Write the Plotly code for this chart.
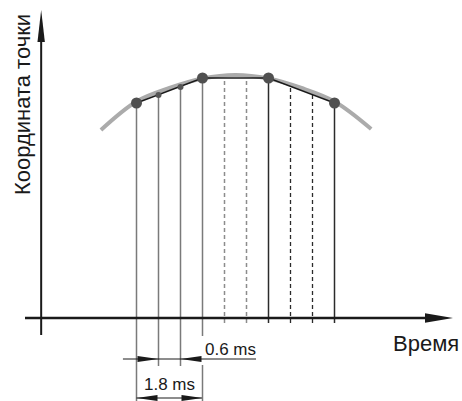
import plotly.graph_objects as go

# ── Data (time in ms, coordinate in arbitrary units) ─────────────────────────
SAMPLE_T = [0.0, 1.8, 3.6, 5.4]          # real samples (big dots)
SAMPLE_Y = [21.5, 24.0, 24.0, 21.5]

INTERP_T = [0.6, 1.2]                    # interpolated samples (small dots)
INTERP_Y = [22.3, 23.1]

CURVE_T = [-0.97, 0.0, 0.9, 1.8, 2.7, 3.6, 4.5, 5.4, 6.4]   # true trajectory
CURVE_Y = [18.8, 21.65, 23.0, 23.95, 24.3, 23.95, 23.0, 21.65, 18.9]

STEM_T = [0.0, 0.6, 1.2, 1.8, 2.4, 3.0, 3.6, 4.2, 4.8, 5.4]
STEM_TOP = [21.5, 22.3, 23.1, 24.0, 24.0, 24.0, 24.0, 23.2, 22.3, 21.5]
STEM_BOTTOM = [-8.3, -4.8, -4.8, -1.8, -0.5, -0.5, -0.5, -0.5, -0.5, -0.5]
STEM_KIND = ["grey", "grey", "grey", "grey", "grey_dash", "grey_dash",
             "dark", "dark_dash", "dark_dash", "dark"]

STEP_LABEL = "0.6 ms"
SPAN_LABEL = "1.8 ms"
X_TITLE = "Время"
Y_TITLE = "Координата точки"

# ── Geometry: data units -> pixels ───────────────────────────────────────────
W, H = 462, 401
PX_MS = 22 / 0.6      # px per ms
PX_U = 10.0           # px per coordinate unit
X0_PX, Y0_PX = 136.5, 318.0
X_RANGE = [-X0_PX / PX_MS, (W - X0_PX) / PX_MS]
Y_RANGE = [-(H - Y0_PX) / PX_U, Y0_PX / PX_U]

AXIS_T = -2.6         # where the vertical axis crosses time
INK = "#1a1a1a"
FONT = "Liberation Sans, Arial, sans-serif"

STYLE = {
    "grey": dict(color="#7a7a7a", width=1.5, dash="solid"),
    "grey_dash": dict(color="#8c8c8c", width=1.5, dash="4px,3px"),
    "dark": dict(color="#2b2b2b", width=1.5, dash="solid"),
    "dark_dash": dict(color="#2b2b2b", width=1.3, dash="4px,3px"),
}


def head(tip_t, tip_y, dx, dy, length=22, half=3.2):
    """Filled arrowhead path; dx, dy = unit direction in screen space (up = +)."""
    bx, by = -dx * length, -dy * length
    px, py = -dy * half, dx * half
    pts = [(0, 0), (bx + px, by + py), (bx - px, by - py)]
    pts = [(tip_t + a / PX_MS, tip_y + b / PX_U) for a, b in pts]
    return dict(type="path", xref="x", yref="y", line_width=0, fillcolor=INK,
                path="M{} {} L{} {} L{} {} Z".format(*[v for p in pts for v in p]))


fig = go.Figure()

# true trajectory
fig.add_trace(go.Scatter(x=CURVE_T, y=CURVE_Y, mode="lines", line_shape="spline",
                         line=dict(color="#ababab", width=4)))

# stems
for kind in STYLE:
    xs, ys = [], []
    for t, top, bot, k in zip(STEM_T, STEM_TOP, STEM_BOTTOM, STEM_KIND):
        if k == kind:
            xs += [t, t, None]
            ys += [bot, top, None]
    fig.add_trace(go.Scatter(x=xs, y=ys, mode="lines", line=STYLE[kind]))

# linear interpolation between samples
fig.add_trace(go.Scatter(x=SAMPLE_T, y=SAMPLE_Y, mode="lines",
                         line=dict(color=INK, width=1.5)))
fig.add_trace(go.Scatter(x=INTERP_T, y=INTERP_Y, mode="markers",
                         marker=dict(size=6, color="#555555")))
fig.add_trace(go.Scatter(x=SAMPLE_T, y=SAMPLE_Y, mode="markers",
                         marker=dict(size=11, color="#505050")))

# axes
x_tip = (453 - X0_PX) / PX_MS
y_tip = (Y0_PX - 10) / PX_U
fig.add_trace(go.Scatter(x=[(25 - X0_PX) / PX_MS, x_tip - 20 / PX_MS], y=[0, 0],
                         mode="lines", line=dict(color=INK, width=2.6)))
fig.add_trace(go.Scatter(x=[AXIS_T, AXIS_T], y=[-1.7, y_tip - 25 / PX_U],
                         mode="lines", line=dict(color=INK, width=2)))

# dimension lines
step_y, span_y = -4.1, -8.0
fig.add_trace(go.Scatter(x=[-0.37, 3.26], y=[step_y, step_y], mode="lines",
                         line=dict(color=INK, width=1)))
fig.add_trace(go.Scatter(x=[STEM_T[0], STEM_T[3]], y=[span_y, span_y], mode="lines",
                         line=dict(color=INK, width=1)))
fig.add_trace(go.Scatter(x=[STEM_T[3], STEM_T[3]], y=[-4.7, Y_RANGE[0]], mode="lines",
                         line=dict(color="#7a7a7a", width=1.5)))

shapes = [
    head(x_tip, 0, 1, 0, length=28, half=4.7),
    head(AXIS_T, y_tip, 0, 1, length=32, half=3.7),
    head(STEM_T[1], step_y, 1, 0, length=21, half=3),
    head(STEM_T[2], step_y, -1, 0, length=21, half=3),
    head(STEM_T[0], span_y, -1, 0, length=21, half=3),
    head(STEM_T[3], span_y, 1, 0, length=21, half=3),
]

annotations = [
    dict(x=1.81, y=-3.1, text=STEP_LABEL, xanchor="left", font_size=17),
    dict(x=0.91, y=-6.6, text=SPAN_LABEL, font_size=17),
    dict(x=7.9, y=-2.5, text=X_TITLE, font_size=22),
    dict(x=-3.12, y=21.3, text=Y_TITLE, textangle=-90, font_size=22),
]
for a in annotations:
    a.update(xref="x", yref="y", showarrow=False, font_color=INK, font_family=FONT)

fig.update_layout(
    width=W, height=H, margin=dict(l=0, r=0, t=0, b=0),
    paper_bgcolor="white", plot_bgcolor="white", showlegend=False,
    xaxis=dict(range=X_RANGE, visible=False, fixedrange=True),
    yaxis=dict(range=Y_RANGE, visible=False, fixedrange=True),
    shapes=shapes, annotations=annotations,
)

# page body has a default margin; drop it so the figure sits at the corner
fig.write_html("out.html", config={"displayModeBar": False},
               post_script="document.body.style.margin='0';document.body.style.overflow='hidden';")
